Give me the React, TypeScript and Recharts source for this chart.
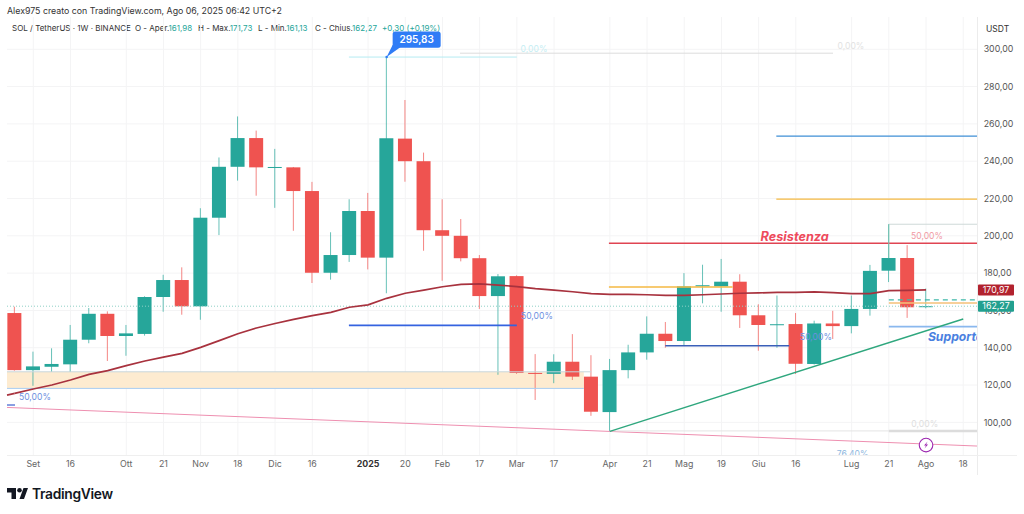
import React from 'react';
import { Bar, CartesianGrid, ComposedChart, Line, ReferenceArea, ReferenceDot, ReferenceLine, XAxis, YAxis } from 'recharts';

// weekly candles: open, high, low, close
const opens = [158.6,128,129.8,131.1,144.3,158.2,146.3,147.4,167.2,176.3,162.2,209.7,237,252.4,236.7,236.7,224,180.2,189.7,213.3,188.3,252.1,240,203,200,188,167.7,178.4,126.5,126,132.5,124.5,105.5,128,137.5,147.5,143.6,172.9,172.9,175.4,157.4,152.2,152.7,131.3,153,151.6,160.8,181.3,188.1,161.98];
const highs = [162,137.9,139.7,152.2,161.3,159.5,152.2,167.6,179.1,183.1,214.8,242,264,256.4,246.6,236.9,228.9,201.9,219.6,223,295.83,272.8,244.6,219.6,209,189.7,179.5,178.8,136.6,136.5,147.3,136,134,141.6,156.8,153.8,180,184.5,187.6,179.4,163.3,168,158.6,154.5,159.8,168,184.4,206.2,195,171.73];
const lows = [127.7,119.6,127,127,142.4,132.9,135.7,146.5,159.3,157.7,155,200.4,229.6,221.5,215,202.7,174.7,176.5,186,182,169.2,229,192,175.9,186.3,160.8,125.5,126,112,121,122.7,103.5,95.2,123.6,133.6,140,141,163.8,159.3,150.6,138.4,140,125.9,131,144.7,147.7,157.2,175.2,156,161.13];
const closes = [128,130,131.3,144.3,158.2,146.3,147.7,167.2,176.3,162.2,209.7,237,252.4,236.7,236.9,224,180.2,189.7,213.3,188.3,252.3,240,203,200,188,167.7,178.3,126.5,126,132.5,124.5,105.7,128,137.5,147.5,143.6,172.9,173.5,175.4,157.4,152.2,152.6,131.4,153,151.6,160.8,181.2,188.1,161.7,162.27];
const movingAvg = [115.5,117.9,120,122.7,125.7,127.7,130.4,132.9,135,137,140.2,143.8,147.5,150.6,153,155.2,157.2,159,161.7,163,166.5,169.2,170.9,172.7,174,174.2,173.6,172.8,171.7,170.9,170,169,168.6,168.6,168.4,168.1,168.1,168.4,168.8,169.2,169.4,169.7,169.7,169.9,169.5,169,169,170.6,170.8,170.97];

const xTicks = [1,3,6,8,10,12,14,16,19,21,23,25,27,29,32,34,36,38,40,42,45,47,49,51];
const xLabels = ['Set','16','Ott','21','Nov','18','Dic','16','2025','20','Feb','17','Mar','17','Apr','21','Mag','19','Giu','16','Lug','21','Ago','18'];
const priceTicks = [100,120,140,160,180,200,220,240,260,280,300];
const lastMa = 170.97;
const lastClose = 162.27;
const peak = 295.83;

const xDomain = [-0.412, 51.74];
const yDomain = [82.5, 317.3];

const data = opens.map((open, i) => ({
  i,
  open,
  close: closes[i],
  wick: [lows[i], highs[i]],
  ma: movingAvg[i],
}));

const comma = (v: number) => v.toFixed(2).replace('.', ',');

const Candle = (props: any) => {
  const { x, y, width, height, payload } = props;
  const [low, high] = payload.wick;
  const up = payload.close >= payload.open;
  const color = up ? '#26a69a' : '#ef5350';
  const perUnit = height / (high - low);
  const top = y + (high - Math.max(payload.open, payload.close)) * perUnit;
  const h = Math.max(Math.abs(payload.close - payload.open) * perUnit, 1);
  const mid = x + width / 2;
  return (
    <g>
      <line x1={mid} x2={mid} y1={y} y2={y + height} stroke={color} strokeOpacity={0.7} />
      <rect x={x} y={top} width={width} height={h} fill={color} />
    </g>
  );
};

const PriceTick = (props: any) => {
  const { x, y, payload } = props;
  const v = payload.value;
  if (v === lastMa || v === lastClose) {
    return (
      <g>
        <rect x={x - 5} y={y - 5.5} width={36} height={11} rx={1} fill={v === lastMa ? '#b2222e' : '#22a08f'} />
        <text x={x + 13} y={y + 3.2} textAnchor="middle" fontSize={8.8} fill="#fff" fontFamily="Inter">{comma(v)}</text>
      </g>
    );
  }
  return <text x={x + 0.7} y={y + 3.2} fontSize={8.8} fill="#555" fontFamily="Inter">{comma(v)}</text>;
};

const TimeTick = (props: any) => {
  const { x, y, payload } = props;
  const label = xLabels[xTicks.indexOf(payload.value)];
  return (
    <text x={x} y={y + 3.5} textAnchor="middle" fontSize={8.8} fill={label === '2025' ? '#333' : '#666'} fontWeight={label === '2025' ? 700 : 400} fontFamily="Inter">
      {label}
    </text>
  );
};

const note = (x: number, y: number, text: string, color: string, size = 8.6, italic = false, anchor = 'middle') => (
  <ReferenceDot
    x={x}
    y={y}
    ifOverflow="visible"
    shape={(p: any) => (
      <text
        x={p.cx}
        y={p.cy + size * 0.35}
        textAnchor={anchor}
        fontSize={size}
        fill={color}
        fontFamily="Inter"
        fontWeight={italic ? 700 : 400}
        fontStyle={italic ? 'italic' : 'normal'}
        clipPath="url(#plotArea)"
      >
        {text}
      </text>
    )}
  />
);

const Callout = (p: any) => (
  <g>
    <path d={`M${p.cx} ${p.cy} L${p.cx + 6} ${p.cy - 12} L${p.cx + 14} ${p.cy - 10} Z`} fill="#2f7cf6" />
    <circle cx={p.cx} cy={p.cy} r={1.3} fill="#2f7cf6" />
    <rect x={p.cx + 6} y={p.cy - 25.6} width={48} height={16.4} rx={2.5} fill="#2f7cf6" />
    <text x={p.cx + 30} y={p.cy - 13.8} textAnchor="middle" fontSize={10} fontWeight={600} fill="#fff" fontFamily="Inter">
      {comma(peak)}
    </text>
  </g>
);

const Flash = (p: any) => (
  <g>
    <circle cx={p.cx} cy={p.cy} r={6.8} fill="#fff" stroke="#9c27b0" strokeWidth={1.1} />
    <path d={`M${p.cx + 1.5} ${p.cy - 3.5} L${p.cx - 2} ${p.cy + 0.5} L${p.cx} ${p.cy + 0.5} L${p.cx - 1.5} ${p.cy + 3.5} L${p.cx + 2} ${p.cy - 0.7} L${p.cx} ${p.cy - 0.7} Z`} fill="#9c27b0" />
  </g>
);

const seg = (x1: number, y1: number, x2: number, y2: number, color: string, width = 1, dash?: string) => (
  <ReferenceLine
    segment={[{ x: x1, y: y1 }, { x: x2, y: y2 }]}
    stroke={color}
    strokeWidth={width}
    strokeDasharray={dash}
    ifOverflow="visible"
  />
);

export default function App() {
  const green = '#26a69a';
  const head = { position: 'absolute', top: 23, fontSize: 8, color: '#333', whiteSpace: 'pre' } as React.CSSProperties;
  return (
    <div style={{ position: 'absolute', left: 0, top: 0, width: 1024, height: 514, background: '#fff', fontFamily: 'Inter', overflow: 'hidden' }}>
      <div style={{ position: 'absolute', left: 7, top: 5, fontSize: 8.8, color: '#333', whiteSpace: 'nowrap' }}>
        Alex975 creato con TradingView.com, Ago 06, 2025 06:42 UTC+2
      </div>
      <div style={{ ...head, left: 12 }}>SOL / TetherUS · 1W · BINANCE</div>
      <div style={{ ...head, left: 135 }}>O - Aper.<span style={{ color: green }}>161,98</span></div>
      <div style={{ ...head, left: 198 }}>H - Max.<span style={{ color: green }}>171,73</span></div>
      <div style={{ ...head, left: 258 }}>L - Min.<span style={{ color: green }}>161,13</span></div>
      <div style={{ ...head, left: 315 }}>C - Chius.<span style={{ color: green }}>162,27</span></div>
      <div style={{ ...head, left: 382, color: green }}>+0,30 (+0,19%)</div>
      <div style={{ position: 'absolute', left: 986, top: 24, fontSize: 8.5, color: '#333' }}>USDT</div>
      <div style={{ position: 'absolute', left: 977, top: 17, width: 1, height: 458, background: '#ececec' }} />
      <div style={{ position: 'absolute', left: 7, top: 455, width: 1010, height: 1, background: '#efefef' }} />

      <ComposedChart
        width={1024}
        height={514}
        data={data}
        margin={{ top: 17, right: 0, bottom: 0, left: 7 }}
        style={{ position: 'absolute', left: 0, top: 0 }}
      >
        <defs>
          <clipPath id="plotArea">
            <rect x={0} y={17} width={977} height={438} />
          </clipPath>
        </defs>
        <CartesianGrid stroke="#f4f4f5" horizontalValues={priceTicks} verticalValues={xTicks} />
        <XAxis
          dataKey="i"
          type="number"
          domain={xDomain}
          allowDataOverflow
          ticks={xTicks}
          interval={0}
          height={59}
          axisLine={false}
          tickLine={false}
          tick={<TimeTick />}
        />
        <YAxis
          orientation="right"
          domain={yDomain}
          allowDataOverflow
          ticks={[...priceTicks, lastClose, lastMa]}
          interval={0}
          width={47}
          axisLine={false}
          tickLine={false}
          tickMargin={0}
          tick={<PriceTick />}
        />

        <ReferenceArea x1={xDomain[0]} x2={30.6} y1={118.2} y2={127.1} fill="#fdebd0" fillOpacity={1} stroke="none" ifOverflow="visible" />
        {seg(xDomain[0], 127.1, 31, 127.1, '#c8d6dc', 1)}
        {seg(xDomain[0], 118.2, 30.6, 118.2, '#a8cdf2', 1)}
        <ReferenceLine y={lastClose} stroke="#8fd0c6" strokeDasharray="1 2" />

        {seg(xDomain[0], 108, xDomain[1], 87.3, '#ee8fb0', 1)}
        {seg(17.97, peak, 27, peak, '#b5ebf2', 1)}
        {seg(23.94, 297.9, 44, 297.9, '#dcdcdc', 1)}
        {seg(40.95, 253.4, xDomain[1], 253.4, '#3f8fd6', 1.2)}
        {seg(40.95, 219.7, xDomain[1], 219.7, '#f5b942', 1.2)}
        {seg(31.95, 196, xDomain[1], 196, '#e04452', 1.4)}
        {seg(47, 206.2, xDomain[1], 206.2, '#cfdad8', 1)}
        {seg(47, 206.2, 47, 188, '#7cc4b4', 1)}
        {seg(31.95, 172.6, 38.6, 172.6, '#f5b942', 1.4)}
        {seg(47, 165.7, xDomain[1], 165.7, '#3fb8a8', 1.2, '5 4')}
        {seg(47, 164, xDomain[1], 164, '#f5c078', 1.6)}
        {seg(47, 151.3, xDomain[1], 151.3, '#8ab8ee', 1.8)}
        {seg(17.97, 152, 27, 152, '#3563e0', 1.6)}
        {seg(34.98, 141.1, 41.64, 141.1, '#3a5fb8', 1.4)}
        {seg(xDomain[0], 109.3, 0.02, 109.3, '#3b5fd0', 1.2)}
        {seg(47, 95.4, xDomain[1], 95.4, '#dcdcdc', 2.5)}
        {seg(32, 95.4, 47, 95.4, '#e4e4e4', 1)}
        {seg(32, 95.2, 51, 155.4, '#2fa77e', 1.4)}

        {note(27.92, 300, '0,00%', '#c6eef3')}
        {note(44.96, 302, '0,00%', '#e2e2e2')}
        {note(41.94, 199.5, 'Resistenza', '#ee4a5c', 12.7, true)}
        {note(49.05, 200, '50,00%', '#f19aa3')}
        {note(1.09, 113.6, '50,00%', '#6e8fe0')}
        {note(28.08, 157.1, '50,00%', '#6e8fe0')}
        {note(43.08, 145.9, '50,00%', '#6e8fe0')}
        {note(48.93, 99.2, '0,00%', '#dedede')}
        {note(45.05, 83, '76,40%', '#8fb8e0')}
        {note(49.1, 145.9, 'Supporto', '#4a7fe0', 12.2, true, 'start')}

        {seg(xDomain[0], 114.6, 0, 115.5, '#a8323e', 1.7)}
        <Line dataKey="ma" stroke="#a8323e" strokeWidth={1.7} dot={false} isAnimationActive={false} />
        <Bar dataKey="wick" barSize={14} shape={<Candle />} isAnimationActive={false} />
        <ReferenceDot x={20} y={peak} ifOverflow="visible" shape={<Callout />} />
        <ReferenceDot x={49} y={87.8} ifOverflow="visible" shape={<Flash />} />
      </ComposedChart>

      <svg width={21} height={12} style={{ position: 'absolute', left: 7, top: 488 }}>
        <path d="M0 0 H9 V11 H4.5 V4.5 H0 Z M12.5 11 L16.5 0 H21 L17 11 Z" fill="#131722" />
        <circle cx={12.5} cy={2.3} r={2.3} fill="#131722" />
      </svg>
      <div style={{ position: 'absolute', left: 32, top: 486, fontSize: 13.8, fontWeight: 600, color: '#131722', letterSpacing: -0.3 }}>TradingView</div>
    </div>
  );
}
